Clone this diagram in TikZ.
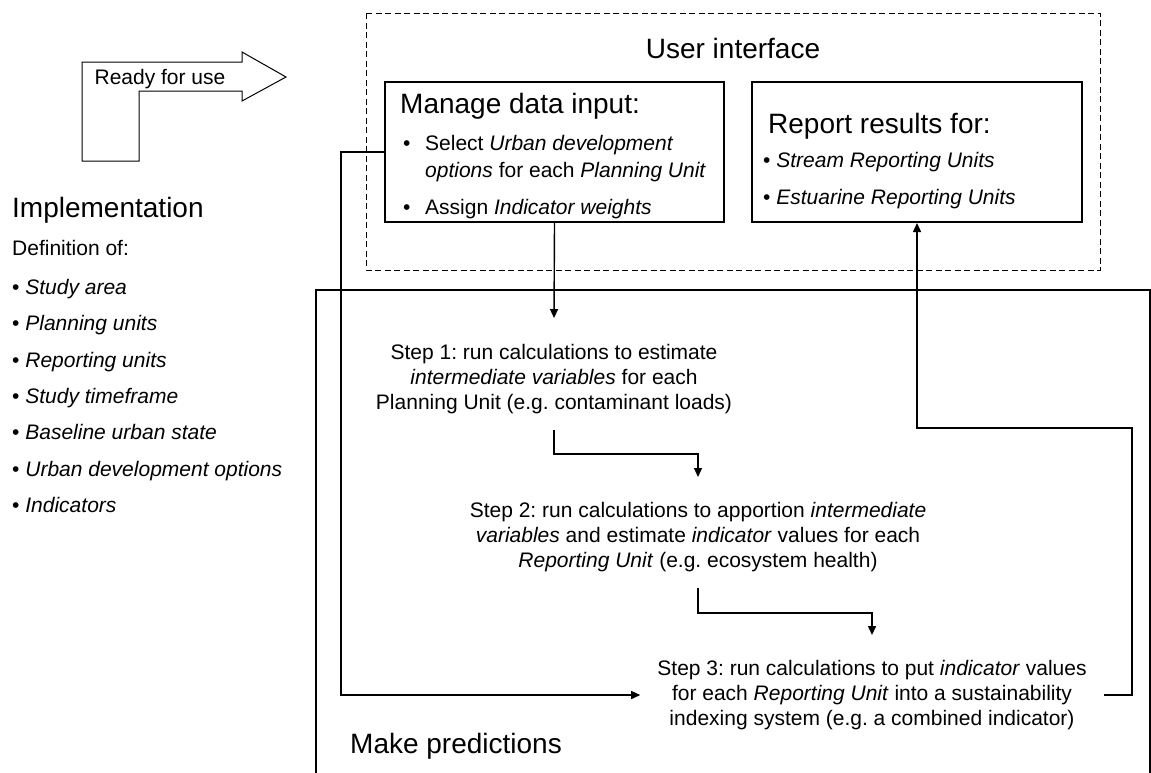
\documentclass[tikz,border=0pt]{standalone}
\usepackage{fontspec}
\setmainfont{Liberation Sans}
\usetikzlibrary{arrows.meta}
\frenchspacing

\tikzset{
  bigtext/.style={font=\fontsize{28}{34}\selectfont, inner sep=0pt},
  smalltext/.style={font=\fontsize{21}{25}\selectfont, inner sep=0pt},
  stepbox/.style={font=\fontsize{21}{25}\selectfont, align=center, inner xsep=17pt, inner ysep=16pt},
  panel/.style={draw, line width=2pt, minimum width=339pt, minimum height=140pt, inner sep=0pt},
  flow/.style={line width=1.4pt, -{Triangle[length=9pt,width=8pt]}},
}

\begin{document}
\begin{tikzpicture}[x=1pt, y=-1pt]
    \useasboundingbox (0,0) rectangle (1151,772);
    \clip (0,0) rectangle (1151,772);

    % constants
    \def\lead{36.3}
    \def\listx{12}

    % ready for use arrow
    \draw [line width=1pt] (82,62) -- (242,62) -- (242,52) -- (286,77) -- (242,101) -- (242,91) -- (139,91) -- (139,161) -- (82,161) -- cycle;
    \node [smalltext, anchor=base] (ready) at (160,84.5) {Ready for use};

    % implementation list
    \node [bigtext, anchor=base west] (impl) at (\listx,217) {Implementation};
    \node [smalltext, anchor=base west] (defn) at (\listx,255.5) {Definition of:};
    \foreach \name [count=\i from 0] in {Study area, Planning units, Reporting units, Study timeframe, Baseline urban state, Urban development options, Indicators}
        \node [smalltext, anchor=base west] (def\i) at (\listx,294.5+\lead*\i) {• \textit{\name}};

    % user interface
    \draw [line width=1pt, dash pattern=on 6pt off 3.5pt] (366,13) rectangle (1100,270);
    \node [bigtext, anchor=base] (ui) at (733,58) {User interface};

    \node [panel] (manage) at (554.5,152) {};
    \node [bigtext, anchor=base west] (managetitle) at (400,113) {Manage data input:};
    \node [smalltext, anchor=base west] (dot1) at (403,150.5) {•};
    \node [smalltext, anchor=base west] (select) at (425,150.5) {Select \textit{Urban development}};
    \node [smalltext, anchor=base west] (options) at (425,177.5) {\textit{options} for each \textit{Planning Unit}};
    \node [smalltext, anchor=base west] (dot2) at (403,214.5) {•};
    \node [smalltext, anchor=base west] (assign) at (425,214.5) {Assign \textit{Indicator weights}};

    \node [panel, minimum width=330pt] (report) at (917,152) {};
    \node [bigtext, anchor=base west] (reporttitle) at (768,133) {Report results for:};
    \node [smalltext, anchor=base west] (stream) at (763,167.5) {• \textit{Stream Reporting Units}};
    \node [smalltext, anchor=base west] (estuary) at (763,204.5) {• \textit{Estuarine Reporting Units}};

    % make predictions
    \draw [line width=2pt] (316,800) -- (316,290) -- (1150,290) -- (1150,800);
    \node [bigtext, anchor=base west] (predict) at (350,753) {Make predictions};

    \node [stepbox] (step1) at (554,379) {Step 1: run calculations to estimate\\ \textit{intermediate variables} for each\\ Planning Unit (e.g. contaminant loads)};
    \node [stepbox] (step2) at (698,537) {Step 2: run calculations to apportion \textit{intermediate}\\ \textit{variables} and estimate \textit{indicator} values for each\\ \textit{Reporting Unit} (e.g. ecosystem health)};
    \node [stepbox] (step3) at (872,695) {Step 3: run calculations to put \textit{indicator} values\\ for each \textit{Reporting Unit} into a sustainability\\ indexing system (e.g. a combined indicator)};

    % connectors
    \draw [flow] (manage.south) -- ([yshift=10pt]step1.north);
    \draw [flow] (step1.south) -- ++(0,24) -| ([yshift=9pt]step2.north);
    \draw [flow] (step2.south) -- ++(0,25) -| ([yshift=9pt]step3.north);
    \draw [flow] (manage.west) -- ++(-43,0) |- (step3.west);
    \coordinate (turn) at (1132,428);
    \draw [flow] (step3.east) -| (turn) -| (report.south);

\end{tikzpicture}
\end{document}
